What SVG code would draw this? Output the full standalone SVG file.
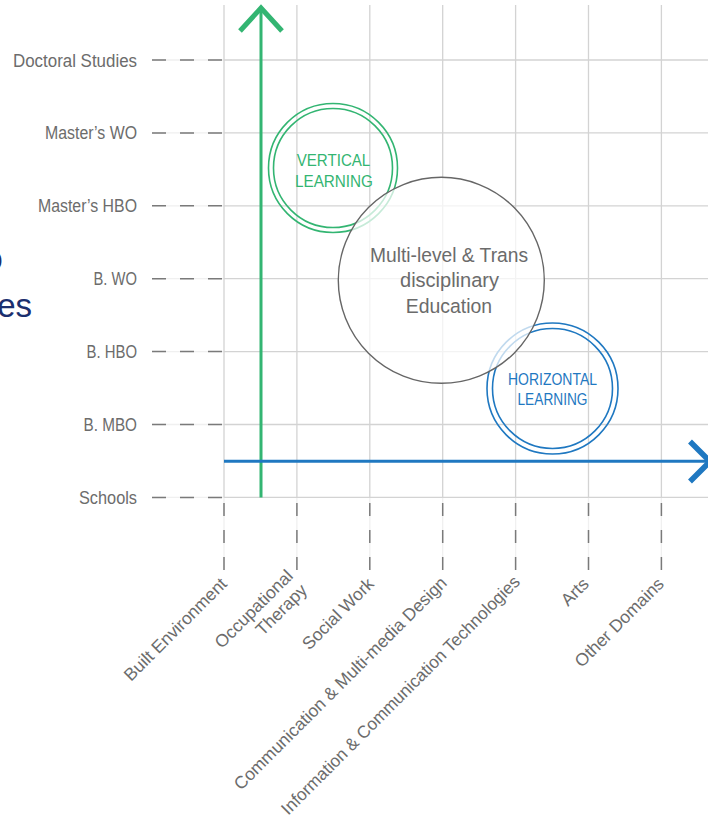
<svg xmlns="http://www.w3.org/2000/svg" width="708" height="819" viewBox="0 0 708 819">
<style>
.grid{stroke:#d3d3d3;stroke-width:1.3;fill:none}
.faint{stroke:#f0f0f0;stroke-width:1.3;fill:none}
.dashh{stroke:#7a7a7a;stroke-width:1.5;stroke-dasharray:14 14;fill:none}
.dashv{stroke:#7a7a7a;stroke-width:1.5;stroke-dasharray:13 14;fill:none}
.ylab{font-family:"Liberation Sans",Arial,sans-serif;font-size:17.5px;fill:#6c6c6c;text-anchor:end}
.xlab{font-family:"Liberation Sans",Arial,sans-serif;font-size:17.5px;fill:#6c6c6c;text-anchor:end}
.green{stroke:#33b572}
.blue{stroke:#1f78c1}
.ring{fill:none;stroke-width:1.6}
.gtxt{font-family:"Liberation Sans",Arial,sans-serif;font-size:17px;fill:#33b572;text-anchor:middle}
.btxt{font-family:"Liberation Sans",Arial,sans-serif;font-size:16px;fill:#1f78c1;text-anchor:middle}
.mtxt{font-family:"Liberation Sans",Arial,sans-serif;font-size:20.5px;fill:#6b6b6b;text-anchor:middle}
.navy{font-family:"Liberation Sans",Arial,sans-serif;fill:#1b2f6e;text-anchor:end}
</style>
<rect width="708" height="819" fill="#ffffff"/>
<g id="slide-text">
<text class="navy" x="3" y="272" font-size="32">O</text>
<text class="navy" x="32" y="316.5" font-size="33">es</text>
</g>
<g id="grid">
<path class="faint" d="M152 60H224M152 132.9H224M152 205.8H224M152 278.7H224M152 351.6H224M152 424.5H224M152 497.4H224"/>
<path class="faint" d="M224 497.4V570M296.9 497.4V570M369.8 497.4V570M442.7 497.4V570M515.6 497.4V570M588.5 497.4V570M661.4 497.4V570"/>
<path class="grid" d="M224 60H708M224 132.9H708M224 205.8H708M224 278.7H708M224 351.6H708M224 424.5H708M224 497.4H708"/>
<path class="grid" d="M224 5V497.4M296.9 5V497.4M369.8 5V497.4M442.7 5V497.4M515.6 5V497.4M588.5 5V497.4M661.4 5V497.4"/>
<path class="dashh" d="M152 60H222M152 132.9H222M152 205.8H222M152 278.7H222M152 351.6H222M152 424.5H222M152 497.4H222"/>
<path class="dashv" d="M224 503V570M296.9 503V570M369.8 503V570M442.7 503V570M515.6 503V570M588.5 503V570M661.4 503V570"/>
</g>
<g id="y-axis-labels">
<text class="ylab" x="137" y="66.5" textLength="124" lengthAdjust="spacingAndGlyphs">Doctoral Studies</text>
<text class="ylab" x="137" y="139" textLength="92" lengthAdjust="spacingAndGlyphs">Master’s WO</text>
<text class="ylab" x="137" y="212" textLength="99" lengthAdjust="spacingAndGlyphs">Master’s HBO</text>
<text class="ylab" x="137" y="285" textLength="43.5" lengthAdjust="spacingAndGlyphs">B. WO</text>
<text class="ylab" x="137" y="358" textLength="50.5" lengthAdjust="spacingAndGlyphs">B. HBO</text>
<text class="ylab" x="137" y="430.5" textLength="53.5" lengthAdjust="spacingAndGlyphs">B. MBO</text>
<text class="ylab" x="137" y="503.5" textLength="58" lengthAdjust="spacingAndGlyphs">Schools</text>
</g>
<g id="x-axis-labels">
<text class="xlab" transform="translate(228 585) rotate(-45)">Built Environment</text>
<text class="xlab" transform="translate(299 582) rotate(-45)"><tspan x="0" dy="-7">Occupational</tspan><tspan x="0" dy="20">Therapy</tspan></text>
<text class="xlab" transform="translate(375 585) rotate(-45)">Social Work</text>
<text class="xlab" transform="translate(448 584) rotate(-45)">Communication &amp; Multi-media Design</text>
<text class="xlab" transform="translate(521 583) rotate(-45)" textLength="329" lengthAdjust="spacingAndGlyphs">Information &amp; Communication Technologies</text>
<text class="xlab" transform="translate(590 585) rotate(-45)">Arts</text>
<text class="xlab" transform="translate(665 585) rotate(-45)">Other Domains</text>
</g>
<g id="connectors">
<g id="vertical-arrow" class="green" fill="none">
<line x1="261" y1="497.4" x2="261" y2="8" stroke-width="3"/>
<polyline points="240,31 261,8 282,31" stroke-width="5"/>
</g>
<g id="horizontal-arrow" class="blue" fill="none">
<line x1="224" y1="461.3" x2="708" y2="461.3" stroke-width="3"/>
<polyline points="690,441.5 710,461.5 690,481.5" stroke-width="5.5"/>
</g>
</g>
<g id="vertical-learning">
<circle cx="333" cy="168" r="64.5" fill="#ffffff" class="ring green"/>
<circle cx="333" cy="168" r="59.5" class="ring green"/>
<text class="gtxt" x="333.5" y="165.7" textLength="73.5" lengthAdjust="spacingAndGlyphs">VERTICAL</text>
<text class="gtxt" x="334" y="187.3" textLength="78" lengthAdjust="spacingAndGlyphs">LEARNING</text>
</g>
<g id="horizontal-learning">
<circle cx="552.5" cy="388.5" r="65.5" fill="#ffffff" class="ring blue"/>
<circle cx="552.5" cy="388.5" r="60" class="ring blue"/>
<text class="btxt" x="552.5" y="385" textLength="89" lengthAdjust="spacingAndGlyphs">HORIZONTAL</text>
<text class="btxt" x="552.5" y="404.5" textLength="70" lengthAdjust="spacingAndGlyphs">LEARNING</text>
</g>
<g id="multi-level-education">
<circle cx="441.3" cy="280.3" r="103" fill="#ffffff" fill-opacity="0.72" stroke="#666666" stroke-width="1.4"/>
<text class="mtxt" x="449" y="261.5" textLength="158" lengthAdjust="spacingAndGlyphs">Multi-level &amp; Trans</text>
<text class="mtxt" x="449.5" y="287" textLength="99" lengthAdjust="spacingAndGlyphs">disciplinary</text>
<text class="mtxt" x="449" y="312.5" textLength="86.3" lengthAdjust="spacingAndGlyphs">Education</text>
</g>
</svg>
